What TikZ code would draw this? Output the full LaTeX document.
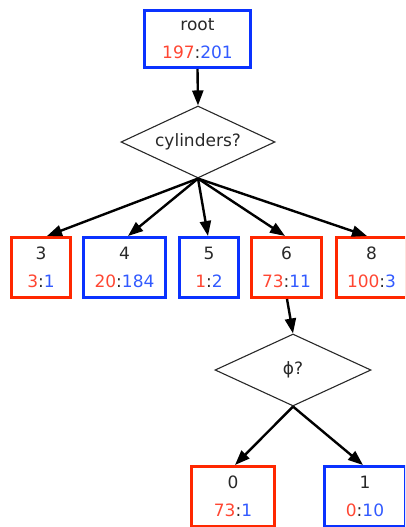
\documentclass[tikz,border=0pt]{standalone}
\usepackage{fontspec}
\setmainfont{DejaVu Sans}
\usetikzlibrary{shapes.geometric,arrows.meta}
\definecolor{bred}{RGB}{255,40,0}
\definecolor{bblue}{RGB}{10,50,255}
\definecolor{tred}{RGB}{255,70,50}
\definecolor{tblue}{RGB}{50,90,255}
\definecolor{tgray}{RGB}{40,40,40}
\tikzset{
 leaf/.style={draw, line width=3pt, rectangle, minimum height=60pt, inner sep=0pt, align=center, font=\fontsize{17}{28}\selectfont, text=tgray},
 redleaf/.style={leaf, draw=bred},
 blueleaf/.style={leaf, draw=bblue},
 question/.style={draw=tgray, line width=1.1pt, diamond, aspect=2.14, minimum width=154pt, minimum height=72pt, inner sep=0pt, font=\fontsize{17}{20}\selectfont, text=tgray},
 edge/.style={line width=2.4pt, -{Triangle[length=15pt,width=11pt]}},
}
\newcommand\rc[2]{{\color{tred}#1}:{\color{tblue}#2}}
\begin{document}
\begin{tikzpicture}[x=1pt,y=1pt]
\clip (0,0) rectangle (405,-527);
\node[blueleaf, minimum width=106pt, minimum height=57pt] (root) at (197.5,-39) {root\\\rc{197}{201}};
\node[question] (cyl) at (198,-142) {cylinders?};
\node[redleaf, minimum width=59pt] (n3) at (41,-267.5) {3\\\rc{3}{1}};
\node[blueleaf, minimum width=82pt] (n4) at (124.5,-267.5) {4\\\rc{20}{184}};
\node[blueleaf, minimum width=59pt] (n5) at (209,-267.5) {5\\\rc{1}{2}};
\node[redleaf, minimum width=70pt] (n6) at (286.5,-267.5) {6\\\rc{73}{11}};
\node[redleaf, minimum width=70pt] (n8) at (371.5,-267.5) {8\\\rc{100}{3}};
\node[question, minimum width=156pt] (phi) at (293,-370) {ϕ?};
\node[redleaf, minimum width=83pt] (n0) at (233,-496.5) {0\\\rc{73}{1}};
\node[blueleaf, minimum width=81pt] (n1) at (365,-496.5) {1\\\rc{0}{10}};
\draw[edge] (root.south) -- (cyl.north);
\draw[edge] (cyl.south) -- ([xshift=6pt]n3.north);
\draw[edge] (cyl.south) -- ([xshift=3.5pt]n4.north);
\draw[edge] (cyl.south) -- ([xshift=-1pt]n5.north);
\draw[edge] (cyl.south) -- ([xshift=-1.5pt]n6.north);
\draw[edge] (cyl.south) -- ([xshift=-4.5pt]n8.north);
\draw[edge] ([xshift=0.5pt]n6.south) -- (phi.north);
\draw[edge] (phi.south) -- ([xshift=2pt]n0.north);
\draw[edge] (phi.south) -- ([xshift=-2pt]n1.north);
\end{tikzpicture}
\end{document}
